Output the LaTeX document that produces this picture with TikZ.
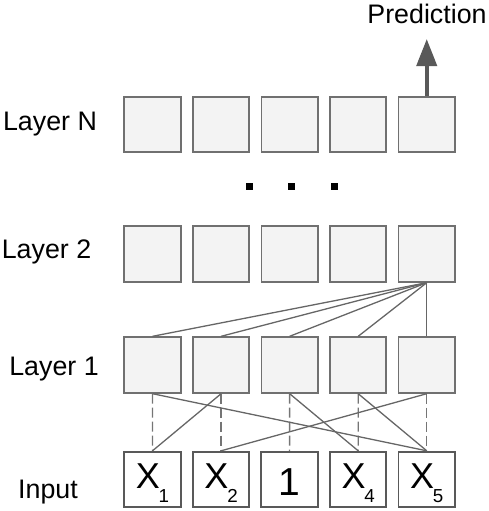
\documentclass[tikz,border=0pt]{standalone}
\usepackage{fontspec}
\setmainfont{Liberation Sans}
\usetikzlibrary{arrows.meta}
\definecolor{cellfill}{HTML}{F3F3F3}
\definecolor{cellline}{HTML}{707070}
\definecolor{linkgray}{HTML}{666666}
\newcommand{\idx}[1]{\kern-0.6pt\raisebox{-7pt}{\fontsize{9.4}{10}\selectfont #1}}
\tikzset{
  cell/.style={draw=cellline, line width=0.9pt, fill=cellfill, minimum width=28.2pt, minimum height=27.8pt, inner sep=0pt},
  incell/.style={cell, fill=white, draw=black!65, font=\fontsize{18}{18}\selectfont, text height=12.9pt, text depth=4.4pt},
  lbl/.style={font=\fontsize{13.4}{15}\selectfont, anchor=base, inner sep=0pt},
  link/.style={draw=linkgray, line width=0.65pt},
  skip/.style={link, draw=linkgray!90, dash pattern=on 5pt off 2pt},
  dotsq/.style={fill=black, minimum size=3.5pt, inner sep=0pt},
}
\begin{document}
\begin{tikzpicture}[x=0.5pt, y=-0.5pt]
\useasboundingbox (0,0) rectangle (489,511);
% row labels
\node[lbl] (labN) at (50,130) {Layer N};
\node[lbl] (lab2) at (46.5,258) {Layer 2};
\node[lbl] (lab1) at (54,375) {Layer 1};
\node[lbl] (labin) at (48,498) {Input};
\node[lbl] (pred) at (427,23) {Prediction};
% hidden layers
\foreach \i in {1,...,5} {
  \node[cell] (lN-\i) at (84+68.55*\i,124.5) {};
  \node[cell] (l2-\i) at (84+68.55*\i,254) {};
  \node[cell] (l1-\i) at (84+68.55*\i,365) {};
}
% input row
\node[incell] (x-1) at (152.5,479.5) {X\idx{1}};
\node[incell] (x-2) at (221.1,479.5) {X\idx{2}};
\node[incell, font=\fontsize{19.5}{20}\selectfont, text height=16pt, text depth=0.5pt] (x-3) at (289.6,479.5) {1};
\node[incell] (x-4) at (358.2,479.5) {X\idx{4}};
\node[incell] (x-5) at (426.75,479.5) {X\idx{5}};
% dots between layer 2 and layer N
\node[dotsq] (d1) at (249.7,186) {};
\node[dotsq] (d2) at (291.3,186) {};
\node[dotsq] (d3) at (334.7,186) {};
% output arrow
\coordinate (tip) at (426.75,39);
\draw[draw=black!65, line width=2pt, -{Triangle[width=10pt,length=13.5pt]}] (lN-5.north) -- (tip);
% layer 2 <- layer 1
\foreach \i in {1,...,5}
  \draw[link] (l2-5.south) -- (l1-\i.north);
% layer 1 <- input
\foreach \i in {1,...,5}
  \draw[skip] (l1-\i.south) -- (x-\i.north);
\draw[link] (l1-1.south) -- (x-5.north);
\draw[link] (l1-2.south) -- (x-1.north);
\draw[link] (l1-3.south) -- (x-4.north);
\draw[link] (l1-4.south) -- (x-5.north);
\draw[link] (l1-5.south) -- (x-2.north);
\end{tikzpicture}
\end{document}
